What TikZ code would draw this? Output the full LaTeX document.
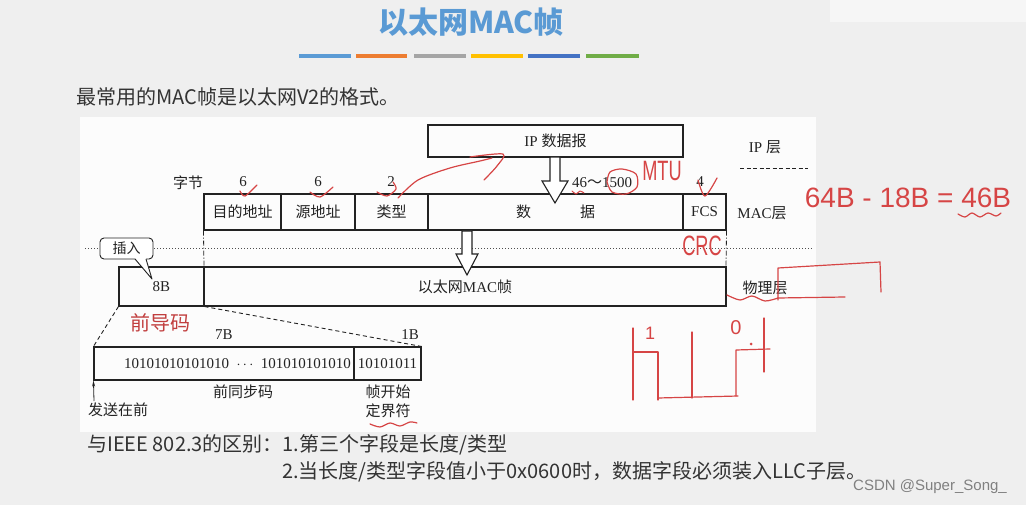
\documentclass[tikz,border=0pt]{standalone}
\usepackage{fontspec}
\setmainfont{Liberation Serif}
\newfontfamily\cjk{Noto Sans CJK SC}
\newfontfamily\handf{Liberation Sans}
\newcommand\zhs[1]{{\cjk #1}}
\definecolor{slidebg}{HTML}{EFEFEF}
\definecolor{panelbg}{HTML}{FCFCFC}
\definecolor{titleblue}{HTML}{5A9AD4}
\definecolor{ink}{HTML}{222222}
\definecolor{slidetext}{HTML}{333333}
\definecolor{handred}{HTML}{D64545}
\definecolor{barA}{HTML}{5B9BD5}
\definecolor{barB}{HTML}{ED7D31}
\definecolor{barC}{HTML}{A5A5A5}
\definecolor{barD}{HTML}{FFC000}
\definecolor{barE}{HTML}{4472C4}
\definecolor{barF}{HTML}{70AD47}
\usetikzlibrary{arrows.meta}
\begin{document}
\begin{tikzpicture}[x=1pt,y=-1pt,
  cell/.style={draw=ink, line width=1.1pt, inner sep=0pt, text=ink, font=\fontsize{15}{18}\selectfont},
  lbl/.style={inner sep=0pt, text=ink, font=\fontsize{15}{18}\selectfont},
  slide/.style={inner sep=0pt, text=slidetext, font=\cjk\fontsize{20}{24}\selectfont},
  hollow/.style={draw=ink, line width=1.1pt, fill=white, line join=miter},
  hand/.style={draw=handred, line width=1.2pt, line cap=round, line join=round},
  handtxt/.style={inner sep=0pt, text=handred, font=\handf\fontsize{28}{30}\selectfont},
  bar/.style={line width=4pt}]
\useasboundingbox (0,0) rectangle (1026,505);
\fill[slidebg] (0,0) rectangle (1026,505);
\fill[white!45!slidebg] (830,0) rectangle (1026,22);
\fill[panelbg] (80,117) rectangle (816,432);

% title
\node[inner sep=0pt, text=titleblue, font=\cjk\bfseries\fontsize{30}{34}\selectfont] (title) at (471,22) {以太网MAC帧};
\draw[bar, barA] (299,56) -- (351,56);
\draw[bar, barB] (356,56) -- (407,56);
\draw[bar, barC] (414,56) -- (466,56);
\draw[bar, barD] (471,56) -- (523,56);
\draw[bar, barE] (528,56) -- (580,56);
\draw[bar, barF] (586,56) -- (639,56);

\node[slide, anchor=west] (sub) at (76,97) {最常用的MAC帧是以太网V2的格式。};

% IP layer
\node[cell, minimum width=255pt, minimum height=32pt] (ip) at (555.5,141) {IP \zhs{数据报}};
\node[lbl] (iplayer) at (765,147) {IP \zhs{层}};
\draw[ink, line width=0.8pt, dash pattern=on 4pt off 2.5pt] (740,168) -- (808,168);

% byte counts
\node[lbl] (bytes) at (188,183) {\zhs{字节}};
\node[lbl] (n1) at (243,182) {6};
\node[lbl] (n2) at (318,182) {6};
\node[lbl] (n3) at (391,182) {2};
\node[lbl] (n4) at (602,183) {46\zhs{～}1500};
\node[lbl] (n5) at (700,182) {4};

% MAC frame
\node[cell, minimum width=77pt, minimum height=36pt] (dst) at (242.5,212) {\zhs{目的地址}};
\node[cell, minimum width=74pt, minimum height=36pt] (src) at (318,212) {\zhs{源地址}};
\node[cell, minimum width=73pt, minimum height=36pt] (typ) at (391.5,212) {\zhs{类型}};
\node[cell, minimum width=255pt, minimum height=36pt] (data) at (555.5,212) {\zhs{数}\hspace{49pt}\zhs{据}};
\node[cell, minimum width=43pt, minimum height=36pt] (fcs) at (704.5,212) {FCS};
\node[lbl] (maclayer) at (762,213) {MAC\zhs{层}};

% arrow IP -> MAC
\draw[hollow] (550,157) -- (550,181) -- (542,181) -- (555,203) -- (568,181) -- (560,181) -- (560,157) -- cycle;

% separators
\draw[ink!80, line width=0.8pt, dash pattern=on 1pt off 2pt] (85,248) -- (813,248);
\draw[ink, line width=0.8pt, dash pattern=on 5pt off 2pt on 1pt off 2pt] (dst.south west) -- (204,267);
\draw[ink, line width=0.8pt, dash pattern=on 5pt off 2pt on 1pt off 2pt] (fcs.south east) -- (726,267);

% physical frame
\node[cell, minimum width=85pt, minimum height=39pt] (pre8) at (161.5,286.5) {8B};
\node[cell, minimum width=522pt, minimum height=39pt] (frame) at (465,286.5) {\zhs{以太网}MAC\zhs{帧}};
\node[lbl] (phylayer) at (765,288) {\zhs{物理层}};

% arrow MAC -> physical
\draw[hollow] (462,231) -- (462,254) -- (456,254) -- (467,275) -- (478,254) -- (472,254) -- (472,231) -- cycle;

% callout
\node[draw=ink, line width=0.9pt, rounded corners=4pt, fill=white, minimum width=53pt, minimum height=21pt, inner sep=0pt, text=ink, font=\cjk\fontsize{14}{16}\selectfont] (ins) at (126.5,248.5) {插入};
\fill[white] (135,258) -- (146,258) -- (152,278) -- cycle;
\draw[ink, line width=0.9pt, line join=round] (135,259) -- (152,279) -- (146,259);

% preamble detail
\node[cell, minimum width=260pt, minimum height=33pt] (sync) at (224,363.5) {};
\node[cell, minimum width=67pt, minimum height=33pt] (sfd) at (387.5,363.5) {10101011};
\node[lbl, anchor=east] (bits) at (351,363.5) {10101010101010 \ $\cdots$ \ 101010101010};
\draw[ink, line width=0.9pt, dash pattern=on 4pt off 3pt] (pre8.south west) -- (sync.north west);
\draw[ink, line width=0.9pt, dash pattern=on 4pt off 3pt] (pre8.south east) -- (sfd.north east);
\node[lbl] (b7) at (224,335) {7B};
\node[lbl] (b1) at (410,335) {1B};
\node[lbl] (syncl) at (243,392) {\zhs{前同步码}};
\node[lbl, align=center, font=\cjk\fontsize{15}{19}\selectfont] (sfdl) at (388,401) {帧开始\\定界符};
\node[lbl] (sendl) at (118,410) {\zhs{发送在前}};
\draw[ink, line width=0.8pt, -{Stealth[length=6pt,width=3pt]}] (94,401) -- (sync.south west);

% bottom text
\node[slide, anchor=west] (diff1) at (87,445) {与IEEE 802.3的区别：1.第三个字段是长度/类型};
\node[slide, anchor=west] (diff2) at (282,472) {2.当长度/类型字段值小于0x0600时，数据字段必须装入LLC子层。};
\node[inner sep=0pt, text=black!50, font=\handf\fontsize{15}{17}\selectfont] (wm) at (930,487) {CSDN @Super\_Song\_};

% handwritten annotations
\node[inner sep=0pt, text=handred!90!black, font=\cjk\fontsize{20}{22}\selectfont] (pream) at (160,323) {前导码};
\node[handtxt, xscale=0.65] (mtu) at (662,171) {MTU};
\node[handtxt, xscale=0.65] (crc) at (702,246) {CRC};
\node[handtxt] (calc) at (908,198) {64B - 18B = 46B};
\draw[hand] plot[smooth] coordinates {(240,191) (245,196) (257,185)};
\draw[hand] plot[smooth] coordinates {(310,192) (320,197) (333,187)};
\draw[hand] plot[smooth] coordinates {(377,192) (387,196) (396,189) (393,182)};
\draw[hand] plot[smooth] coordinates {(398,198) (418,180) (450,168) (480,161) (492,158)};
\draw[hand] plot[smooth] coordinates {(470,157) (503,154) (497,166) (484,180)};
\draw[hand] plot[smooth] coordinates {(607,182) (610,172) (622,169) (636,174) (637,187) (626,194) (612,192) (607,182)};
\draw[hand, line width=1pt] plot[smooth] coordinates {(572,191) (576,194) (580,191) (584,193)};
\draw[hand] plot[smooth] coordinates {(698,180) (705,196) (717,178)};
\draw[hand] plot[smooth] coordinates {(958,214) (965,217) (972,213) (980,217) (988,213) (996,216) (1001,213)};
\draw[hand] plot[smooth] coordinates {(370,424) (380,427) (390,423) (400,426) (410,422) (417,423)};
% sketch near physical layer
\draw[hand] plot[smooth] coordinates {(727,295) (740,300) (752,296) (765,301) (778,298)};
\draw[hand] (778,300) -- (778,268) -- (880,262) -- (881,292);
\draw[hand] (778,298) -- (845,297);
% waveform sketch
\draw[hand] (633,328) -- (633,400);
\draw[hand] (633,352) -- (658,352) -- (658,400);
\draw[hand] (658,398) -- (738,396);
\draw[hand] (692,332) -- (692,398);
\draw[hand] (736,396) -- (736,350) -- (770,349);
\draw[hand] (764,318) -- (764,372);
\node[handtxt, font=\handf\fontsize{18}{20}\selectfont] (one) at (650,333) {1};
\node[handtxt, font=\handf\fontsize{20}{22}\selectfont] (zero) at (736,328) {0};
\fill[handred] (751,344) circle (1.5pt);
\end{tikzpicture}
\end{document}
